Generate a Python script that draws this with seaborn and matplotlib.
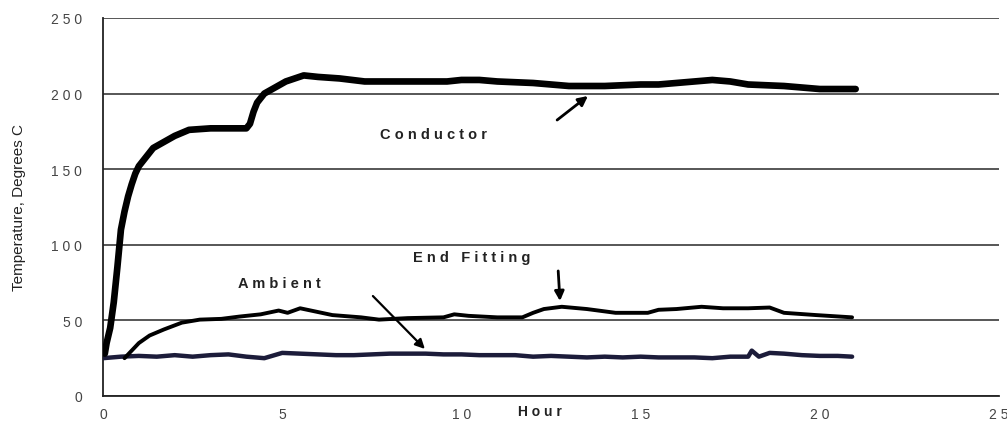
import matplotlib
matplotlib.use("Agg")
import matplotlib.pyplot as plt
import seaborn as sns
import pandas as pd

# Conductor temperature (deg C) against elapsed hours
cond_hours = [0.05, 0.1, 0.2, 0.3, 0.4, 0.5, 0.6, 0.7, 0.8, 0.9, 1.0, 1.2, 1.4, 1.7,
              2.0, 2.4, 3.0, 3.5, 4.0, 4.1, 4.2, 4.3, 4.5, 4.8, 5.1, 5.6, 6.0, 6.6,
              7.3, 8.0, 9.0, 9.6, 10.0, 10.5, 11.0, 12.0, 13.0, 14.0, 15.0, 15.5,
              16.0, 17.0, 17.5, 18.0, 19.0, 20.0, 21.0]
cond_temp = [28, 35, 45, 62, 85, 110, 122, 132, 140, 147, 152, 158, 164, 168,
             172, 176, 177, 177, 177, 180, 188, 194, 200, 204, 208, 212, 211, 210,
             208, 208, 208, 208, 209, 209, 208, 207, 205, 205, 206, 206,
             207, 209, 208, 206, 205, 203, 203]

# End fitting temperature
end_hours = [0.6, 0.8, 1.0, 1.3, 1.7, 2.2, 2.7, 3.3, 3.8, 4.4, 4.9, 5.15, 5.5, 5.9,
             6.4, 7.2, 7.7, 8.5, 9.5, 9.8, 10.2, 11.0, 11.7, 12.0, 12.3, 12.8, 13.5,
             14.3, 15.2, 15.5, 16.0, 16.7, 17.3, 18.0, 18.6, 19.0, 19.9, 20.9]
end_temp = [25, 30, 35, 40, 44, 48.5, 50.5, 51, 52.5, 54, 56.5, 55, 58, 56,
            53.5, 52, 50.5, 51.5, 52, 54, 53, 52, 52, 55, 57.5, 59, 57.5,
            55, 55, 57, 57.5, 59, 58, 58, 58.5, 55, 53.5, 52]

# Ambient air temperature
amb_hours = [0.0, 0.5, 1.0, 1.5, 2.0, 2.5, 3.0, 3.5, 4.0, 4.5, 5.0, 5.5, 6.0, 6.5,
             7.0, 7.5, 8.0, 8.5, 9.0, 9.5, 10.0, 10.5, 11.0, 11.5, 12.0, 12.5, 13.0,
             13.5, 14.0, 14.5, 15.0, 15.5, 16.0, 16.5, 17.0, 17.5, 18.0, 18.1, 18.3,
             18.6, 19.0, 19.5, 20.0, 20.5, 20.9]
amb_temp = [25, 26, 26.5, 26, 27, 26, 27, 27.5, 26, 25, 28.5, 28, 27.5, 27,
            27, 27.5, 28, 28, 28, 27.5, 27.5, 27, 27, 27, 26, 26.5, 26,
            25.5, 26, 25.5, 26, 25.5, 25.5, 25.5, 25, 26, 26, 30, 26,
            28.5, 28, 27, 26.5, 26.5, 26]

x_ticks = [0, 5, 10, 15, 20, 25]
y_ticks = [0, 50, 100, 150, 200, 250]

sns.set_style("white")
plt.rcParams["font.family"] = ["Liberation Sans", "DejaVu Sans"]

fig = plt.figure(figsize=(10.07, 4.27), dpi=100)
ax = fig.add_axes([0.1023, 0.0703, 0.8898, 0.8853])

cond = pd.DataFrame({"Hour": cond_hours, "Temp": cond_temp})
endf = pd.DataFrame({"Hour": end_hours, "Temp": end_temp})
amb = pd.DataFrame({"Hour": amb_hours, "Temp": amb_temp})

sns.lineplot(data=amb, x="Hour", y="Temp", ax=ax, color="#1c1c3a",
             linewidth=3.2, estimator=None, sort=False, zorder=3)
sns.lineplot(data=endf, x="Hour", y="Temp", ax=ax, color="black",
             linewidth=2.8, estimator=None, sort=False, zorder=4)
sns.lineplot(data=cond, x="Hour", y="Temp", ax=ax, color="black",
             linewidth=4.8, estimator=None, sort=False, zorder=5)

ax.set_xlim(0, 25)
ax.set_ylim(0, 250)
ax.set_xticks(x_ticks)
ax.set_yticks(y_ticks)
ax.set_xticklabels([" ".join(str(t)) for t in x_ticks], fontsize=10, color="#444444")
ax.set_yticklabels([" ".join(str(t)) for t in y_ticks], fontsize=10, color="#444444")

ax.yaxis.grid(True, color="#3a3a3a", linewidth=1.2)
ax.xaxis.grid(False)
ax.set_axisbelow(True)

for side in ("top", "right"):
    ax.spines[side].set_visible(False)
for side in ("left", "bottom"):
    ax.spines[side].set_color("#222222")
    ax.spines[side].set_linewidth(1.3)

ax.tick_params(axis="y", direction="out", length=6, width=1.2, color="#222222", pad=9)
ax.tick_params(axis="x", direction="out", length=4, width=1.2, color="#222222", pad=4)

ax.set_ylabel("Temperature, Degrees C", fontsize=11, color="#222222")
ax.yaxis.set_label_coords(-0.086, 0.5)
ax.set_xlabel("H o u r", fontsize=10, fontweight="bold", color="#222222")
ax.xaxis.set_label_coords(0.488, -0.04)
ax.xaxis.label.set_va("center")

txt = dict(fontsize=10.5, fontweight="bold", color="#222222", va="center", ha="left")
ax.text(7.73, 173.3, "C o n d u c t o r", **txt)
ax.text(8.65, 91.9, "E n d   F i t t i n g", **txt)
ax.text(3.77, 74.6, "A m b i e n t", **txt)

arrow = dict(arrowstyle="-|>", color="black", lw=2.0, mutation_scale=14,
             shrinkA=0, shrinkB=0)
ax.annotate("", xy=(13.53, 198.4), xytext=(12.67, 182.5), arrowprops=arrow, zorder=6)
ax.annotate("", xy=(12.75, 62.8), xytext=(12.7, 82.7), arrowprops=arrow, zorder=6)
ax.annotate("", xy=(8.98, 31.1), xytext=(7.53, 66.1),
            arrowprops=dict(arrow, lw=1.6), zorder=6)

fig.savefig("out.png", dpi=100)
